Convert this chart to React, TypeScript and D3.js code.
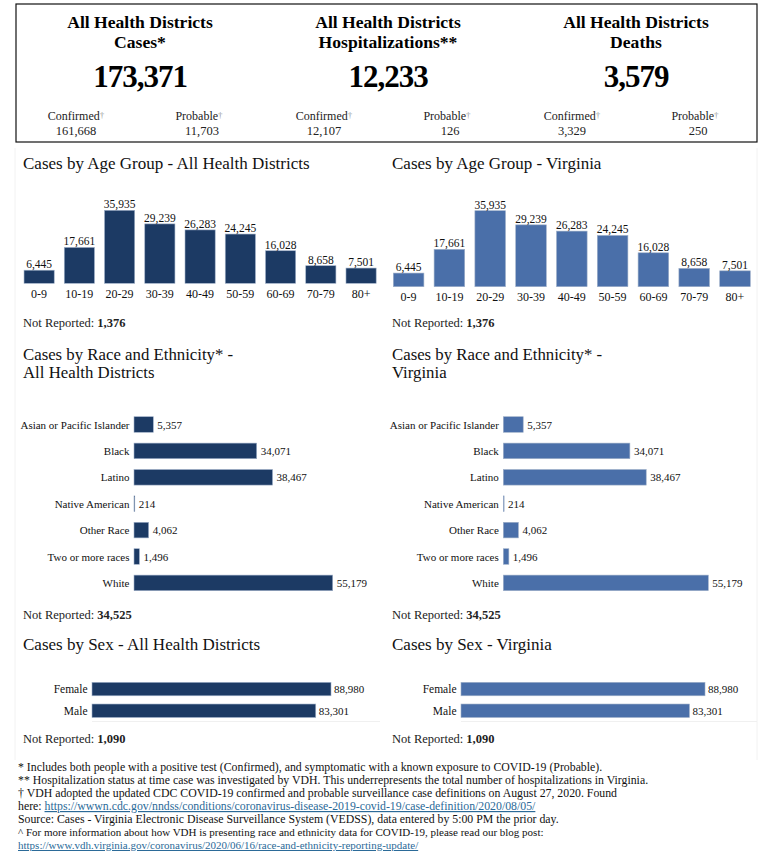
import React from "react";
import * as d3 from "d3";

const headerTitles = ["Cases*", "Hospitalizations**", "Deaths"];
const headerTotals = [173371, 12233, 3579];
const headerConfirmed = [161668, 12107, 3329];
const headerProbable = [11703, 126, 250];

const ageGroups = ["0-9", "10-19", "20-29", "30-39", "40-49", "50-59", "60-69", "70-79", "80+"];
const ageCases = [6445, 17661, 35935, 29239, 26283, 24245, 16028, 8658, 7501];
const ageNotReported = 1376;

const raceGroups = [
  "Asian or Pacific Islander",
  "Black",
  "Latino",
  "Native American",
  "Other Race",
  "Two or more races",
  "White",
];
const raceCases = [5357, 34071, 38467, 214, 4062, 1496, 55179];
const raceNotReported = 34525;

const sexGroups = ["Female", "Male"];
const sexCases = [88980, 83301];
const sexNotReported = 1090;

const footnotes = [
  "* Includes both people with a positive test (Confirmed), and symptomatic with a known exposure to COVID-19 (Probable).",
  "** Hospitalization status at time case was investigated by VDH. This underrepresents the total number of hospitalizations in Virginia.",
  "† VDH adopted the updated CDC COVID-19 confirmed and probable surveillance case definitions on August 27, 2020. Found",
  "here: |https://wwwn.cdc.gov/nndss/conditions/coronavirus-disease-2019-covid-19/case-definition/2020/08/05/",
  "Source:  Cases - Virginia Electronic Disease Surveillance System (VEDSS), data entered by 5:00 PM the prior day.",
  "^ For more information about how VDH is presenting race and ethnicity data for COVID-19, please read our blog post:",
  "|https://www.vdh.virginia.gov/coronavirus/2020/06/16/race-and-ethnicity-reporting-update/",
];

const FONT = "'Liberation Serif', 'Times New Roman', Times, serif";
const fmt = d3.format(",");
const DARK = "#1c3a64";
const LIGHT = "#4a6fa9";
const LINK = "#2b6a98";

function Header() {
  const centers = [140, 388, 636];
  return (
    <g>
      <rect x={16} y={4} width={741} height={138} fill="white" stroke="#111" strokeWidth={1.2} />
      {headerTitles.map((t, i) => (
        <g key={t}>
          <text x={centers[i]} y={28} textAnchor="middle" fontSize={17.6} fontWeight="bold">All Health Districts</text>
          <text x={centers[i]} y={47.5} textAnchor="middle" fontSize={17.6} fontWeight="bold">{t}</text>
          <text x={centers[i]} y={87} textAnchor="middle" fontSize={31} fontWeight="bold" letterSpacing={-1}>{fmt(headerTotals[i])}</text>
          <text x={centers[i] - 64} y={120} textAnchor="middle" fontSize={12} fill="#222">
            Confirmed<tspan fontSize={9} fill="#999" dy={-2}>†</tspan>
          </text>
          <text x={centers[i] - 64} y={135} textAnchor="middle" fontSize={12.5} fill="#222">{fmt(headerConfirmed[i])}</text>
          <text x={centers[i] + 59} y={120} textAnchor="middle" fontSize={12} fill="#222">
            Probable<tspan fontSize={9} fill="#999" dy={-2}>†</tspan>
          </text>
          <text x={centers[i] + 62} y={135} textAnchor="middle" fontSize={12.5} fill="#222">{fmt(headerProbable[i])}</text>
        </g>
      ))}
    </g>
  );
}

function NotReported({ x, y, value }: { x: number; y: number; value: number }) {
  return (
    <text x={x} y={y} fontSize={12.5} fill="#222">
      Not Reported: <tspan fontWeight="bold">{fmt(value)}</tspan>
    </text>
  );
}

function AgeChart({ x0, x1, base, top, color, titleX, titleY, title }: any) {
  const x = d3.scaleBand<string>().domain(ageGroups).range([x0, x1]).paddingInner(0.25).paddingOuter(0.125);
  const y = d3.scaleLinear().domain([0, d3.max(ageCases) as number]).range([base, top]);
  return (
    <g>
      <text x={titleX} y={titleY} fontSize={17} fill="#111">{title}</text>
      {ageGroups.map((g, i) => (
        <g key={g}>
          <rect
            x={x(g)}
            y={y(ageCases[i])}
            width={x.bandwidth()}
            height={base - y(ageCases[i])}
            fill={color}
            stroke="#9fb0c8"
            strokeWidth={0.6}
          />
          <text x={(x(g) as number) + x.bandwidth() / 2} y={y(ageCases[i]) - 2} textAnchor="middle" fontSize={11.5} fill="#111">
            {fmt(ageCases[i])}
          </text>
          <text x={(x(g) as number) + x.bandwidth() / 2} y={base + 14.5} textAnchor="middle" fontSize={12} fill="#111">
            {g}
          </text>
        </g>
      ))}
    </g>
  );
}

function RaceChart({ xStart, xMaxEnd, color, titleX, title2 }: any) {
  const y = d3.scaleBand<string>().domain(raceGroups).range([411.3, 596.1]).paddingInner(0.41).paddingOuter(0.205);
  const x = d3.scaleLinear().domain([0, d3.max(raceCases) as number]).range([xStart, xMaxEnd]);
  return (
    <g>
      <text x={titleX} y={359.5} fontSize={16.8} fill="#111">Cases by Race and Ethnicity* -</text>
      <text x={titleX} y={378.4} fontSize={16.8} fill="#111">{title2}</text>
      {raceGroups.map((g, i) => {
        const yy = y(g) as number;
        const cy = yy + y.bandwidth() / 2;
        return (
          <g key={g}>
            <rect x={xStart} y={yy} width={Math.max(0.8, x(raceCases[i]) - xStart)} height={y.bandwidth()} fill={color} stroke="#9fb0c8" strokeWidth={0.6} />
            <text x={xStart - 4.5} y={cy + 4} textAnchor="end" fontSize={11} fill="#111">{g}</text>
            <text x={x(raceCases[i]) + 4} y={cy + 4} fontSize={11} fill="#111">{fmt(raceCases[i])}</text>
          </g>
        );
      })}
    </g>
  );
}

function SexChart({ xStart, xMaxEnd, color, titleX, title, gridRight }: any) {
  const y = d3.scaleBand<string>().domain(sexGroups).range([678.2, 721.6]).paddingInner(0.38).paddingOuter(0.19);
  const x = d3.scaleLinear().domain([0, d3.max(sexCases) as number]).range([xStart, xMaxEnd]);
  return (
    <g>
      <text x={titleX} y={650} fontSize={17} fill="#111">{title}</text>
      <line x1={xStart} x2={gridRight} y1={721.5} y2={721.5} stroke="#f0f0f0" />
      {sexGroups.map((g, i) => {
        const yy = y(g) as number;
        const cy = yy + y.bandwidth() / 2;
        return (
          <g key={g}>
            <rect x={xStart} y={yy} width={x(sexCases[i]) - xStart} height={y.bandwidth()} fill={color} stroke="#9fb0c8" strokeWidth={0.6} />
            <text x={xStart - 4.5} y={cy + 4} textAnchor="end" fontSize={11.5} fill="#111">{g}</text>
            <text x={x(sexCases[i]) + 3} y={cy + 4} fontSize={11} fill="#111">{fmt(sexCases[i])}</text>
          </g>
        );
      })}
    </g>
  );
}

function Footnotes() {
  return (
    <g>
      {footnotes.map((line, i) => {
        const [plain, link] = line.includes("|") ? line.split("|") : [line, ""];
        return (
          <text key={i} x={18} y={771 + i * 13} fontSize={i >= 5 ? 11 : 11.8} fill="#111">
            {plain}
            {link && (
              <tspan fill={LINK} textDecoration="underline">{link}</tspan>
            )}
          </text>
        );
      })}
    </g>
  );
}

export default function App() {
  return (
    <svg
      width={783}
      height={851}
      viewBox="0 0 783 851"
      style={{ position: "absolute", left: 0, top: 0, display: "block", background: "white" }}
      fontFamily={FONT}
    >
      <rect width={783} height={851} fill="white" />
      <line x1={15} x2={15} y1={148} y2={760} stroke="#f2f2f2" />
      <line x1={757} x2={757} y1={148} y2={760} stroke="#f2f2f2" />
      <Header />
      <AgeChart x0={19} x1={381.2} base={283.3} top={210.3} color={DARK} titleX={23} titleY={169} title="Cases by Age Group - All Health Districts" />
      <AgeChart x0={388.2} x1={755.4} base={286.7} top={210.7} color={LIGHT} titleX={392} titleY={169} title="Cases by Age Group - Virginia" />
      <NotReported x={23} y={327} value={ageNotReported} />
      <NotReported x={392} y={327} value={ageNotReported} />
      <RaceChart xStart={134} xMaxEnd={332.7} color={DARK} titleX={23} title2="All Health Districts" />
      <RaceChart xStart={503.3} xMaxEnd={708.3} color={LIGHT} titleX={392} title2="Virginia" />
      <NotReported x={23} y={619} value={raceNotReported} />
      <NotReported x={392} y={619} value={raceNotReported} />
      <SexChart xStart={92} xMaxEnd={331} color={DARK} titleX={23} title="Cases by Sex - All Health Districts" gridRight={380} />
      <SexChart xStart={461} xMaxEnd={705} color={LIGHT} titleX={392} title="Cases by Sex - Virginia" gridRight={757} />
      <NotReported x={23} y={743} value={sexNotReported} />
      <NotReported x={392} y={743} value={sexNotReported} />
      <Footnotes />
    </svg>
  );
}
